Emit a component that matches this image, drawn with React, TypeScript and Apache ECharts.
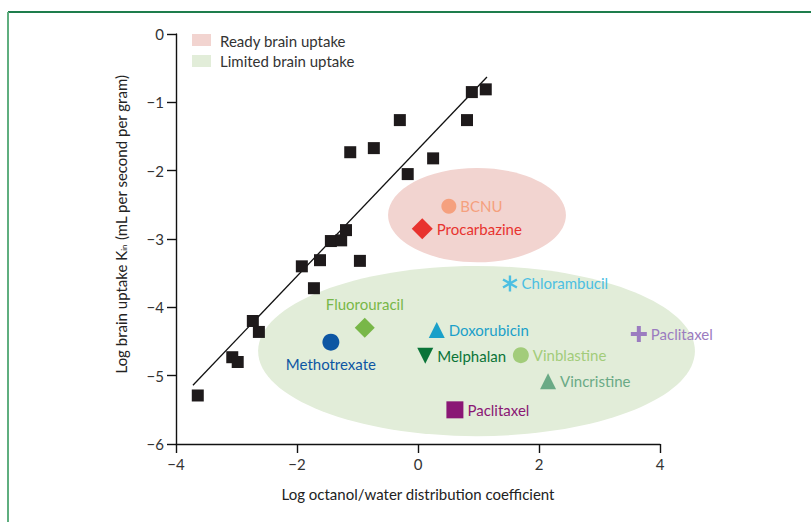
import React, { useEffect, useRef } from "react";
import * as echarts from "echarts";

// Reference compounds (black squares)
const refX = [-3.64, -3.07, -2.98, -2.73, -2.63, -1.92, -1.72, -1.62, -1.44, -1.27, -1.19, -0.96, -1.12, -0.73, -0.3, -0.17, 0.25, 0.81, 0.89, 1.12];
const refY = [-5.29, -4.73, -4.8, -4.2, -4.36, -3.4, -3.72, -3.31, -3.03, -3.02, -2.87, -3.32, -1.73, -1.67, -1.26, -2.05, -1.82, -1.26, -0.85, -0.81];

// Regression line
const fitX = [-3.72, 1.14];
const fitY = [-5.14, -0.63];

// Regions: [centerX, centerY, radiusX, radiusY]
const readyRegion = [0.975, -2.65, 1.47, 0.69];
const limitedRegion = [0.967, -4.64, 3.61, 1.245];

// Drugs
const drugNames = ["BCNU", "Procarbazine", "Chlorambucil", "Fluorouracil", "Methotrexate", "Doxorubicin", "Melphalan", "Vinblastine", "Vincristine", "Paclitaxel", "Paclitaxel "];
const drugX = [0.51, 0.07, 1.52, -0.88, -1.44, 0.31, 0.12, 1.7, 2.15, 0.61, 3.65];
const drugY = [-2.52, -2.85, -3.65, -4.3, -4.51, -4.33, -4.71, -4.7, -5.08, -5.5, -4.39];

const xTicks = [-4, -2, 0, 2, 4];
const yTicks = [0, -1, -2, -3, -4, -5, -6];

const ASTERISK =
  "path://M-1.5,-10L1.5,-10L1.5,10L-1.5,10Z M7.91,-6.3L9.41,-3.7L-7.91,6.3L-9.41,3.7Z M-9.41,-3.7L-7.91,-6.3L9.41,3.7L7.91,6.3Z";
const PLUS =
  "path://M-1.5,-6L1.5,-6L1.5,-1.5L6,-1.5L6,1.5L1.5,1.5L1.5,6L-1.5,6L-1.5,1.5L-6,1.5L-6,-1.5L-1.5,-1.5Z";

const drugStyle: Record<string, any> = {
  BCNU: { symbol: "circle", size: 15, color: "#f5a07e" },
  Procarbazine: { symbol: "diamond", size: [21, 21], color: "#e8332f" },
  Chlorambucil: { symbol: ASTERISK, size: 16, color: "#4cbfe2" },
  Fluorouracil: { symbol: "diamond", size: [20, 20], color: "#78b748", pos: "top" },
  Methotrexate: { symbol: "circle", size: 17, color: "#0d56a3", pos: "bottom" },
  Doxorubicin: { symbol: "triangle", size: 16, color: "#1aa0c9" },
  Melphalan: { symbol: "triangle", size: 16, color: "#0a7438", rotate: 180 },
  Vinblastine: { symbol: "circle", size: 16, color: "#a2cc7a" },
  Vincristine: { symbol: "triangle", size: 16, color: "#6aaa86" },
  Paclitaxel: { symbol: "rect", size: 17, color: "#8a1775" },
  "Paclitaxel ": { symbol: PLUS, size: 16, color: "#9b7cc0" },
};

const FONT = "Lato, 'Noto Sans', sans-serif";
const FS = 15;
const minus = (v: number) => String(v).replace("-", "\u2212");

export default function App() {
  const ref = useRef<HTMLDivElement>(null);
  useEffect(() => {
    document.body.style.margin = "0";
    const chart = echarts.init(ref.current!, null, { renderer: "svg" });

    const ellipseSeries = (name: string, d: number[], color: string) => ({
      type: "custom",
      name,
      z: 1,
      silent: true,
      data: [d],
      encode: { x: 0, y: 1 },
      renderItem: (_p: any, api: any) => {
        const c = api.coord([api.value(0), api.value(1)]);
        const s = api.size([api.value(2), api.value(3)]);
        return {
          type: "ellipse",
          shape: { cx: c[0], cy: c[1], rx: s[0], ry: s[1] },
          style: { fill: color },
        };
      },
    });

    const drugSeries = drugNames.map((n, i) => {
      const st = drugStyle[n];
      const pos = st.pos || "right";
      return {
        type: "scatter",
        name: n,
        z: 5,
        symbol: st.symbol,
        symbolSize: st.size,
        symbolRotate: st.rotate || 0,
        symbolKeepAspect: true,
        itemStyle: { color: st.color, opacity: 1 },
        data: [[drugX[i], drugY[i]]],
        label: {
          show: true,
          position: pos,
          distance: pos === "right" ? 4 : 6,
          formatter: n.trim(),
          color: st.color,
          fontSize: FS,
          fontFamily: FONT,
        },
      };
    });

    chart.setOption({
      animation: false,
      grid: { left: 176, right: 151, top: 34, bottom: 78 },
      xAxis: {
        type: "value",
        min: -4,
        max: 4,
        interval: 2,
        name: "Log octanol/water distribution coefficient",
        nameLocation: "middle",
        nameGap: 42,
        nameTextStyle: { color: "#222", fontSize: FS, fontFamily: FONT },
        axisLine: { onZero: false, lineStyle: { color: "#111", width: 1.4 } },
        axisTick: { length: 9, lineStyle: { color: "#111", width: 1.4 } },
        axisLabel: {
          color: "#333",
          fontSize: FS,
          fontFamily: FONT,
          margin: 12,
          customValues: xTicks,
          formatter: (v: number) => minus(v),
        },
        splitLine: { show: false },
      },
      yAxis: {
        type: "value",
        min: -6,
        max: 0,
        interval: 1,
        name: "{a|Log brain uptake K}{s|in}{a| (mL per second per gram)}",
        nameLocation: "middle",
        nameGap: 48,
        nameRotate: 90,
        nameTextStyle: {
          color: "#222",
          fontFamily: FONT,
          padding: [0, 0, 0, 30],
          rich: {
            a: { fontSize: FS, color: "#222", fontFamily: FONT },
            s: { fontSize: 8, color: "#222", fontFamily: FONT, verticalAlign: "bottom", padding: [6, 0, 0, 0] },
          },
        },
        axisLine: { onZero: false, lineStyle: { color: "#111", width: 1.4 } },
        axisTick: { length: 9, lineStyle: { color: "#111", width: 1.4 } },
        axisLabel: {
          color: "#333",
          fontSize: FS,
          fontFamily: FONT,
          margin: 12,
          customValues: yTicks,
          formatter: (v: number) => minus(v),
        },
        splitLine: { show: false },
      },
      graphic: [
        { type: "line", shape: { x1: 8, y1: 12, x2: 811, y2: 12 }, style: { stroke: "#1e7d4c", lineWidth: 2 } },
        { type: "line", shape: { x1: 8, y1: 12, x2: 8, y2: 522 }, style: { stroke: "#5fae7f", lineWidth: 2 } },
        { type: "rect", shape: { x: 192, y: 34, width: 19, height: 12 }, style: { fill: "#f2d4d0" } },
        { type: "rect", shape: { x: 192, y: 55, width: 19, height: 12 }, style: { fill: "#e2edd9" } },
        { type: "text", x: 220, y: 41, style: { text: "Ready brain uptake", fill: "#333", fontSize: FS, fontFamily: FONT, verticalAlign: "middle" } },
        { type: "text", x: 220, y: 61, style: { text: "Limited brain uptake", fill: "#333", fontSize: FS, fontFamily: FONT, verticalAlign: "middle" } },
      ],
      series: [
        ellipseSeries("Ready brain uptake", readyRegion, "#f2d4d0"),
        ellipseSeries("Limited brain uptake", limitedRegion, "#e2edd9"),
        {
          type: "line",
          z: 3,
          data: fitX.map((x, i) => [x, fitY[i]]),
          showSymbol: false,
          symbol: "none",
          lineStyle: { color: "#111", width: 1.3 },
        },
        {
          type: "scatter",
          z: 4,
          symbol: "rect",
          symbolSize: 12,
          itemStyle: { color: "#1e1a1b", opacity: 1 },
          data: refX.map((x, i) => [x, refY[i]]),
        },
        ...drugSeries,
      ],
    });
    return () => chart.dispose();
  }, []);
  return <div ref={ref} style={{ width: 811, height: 522 }} />;
}
